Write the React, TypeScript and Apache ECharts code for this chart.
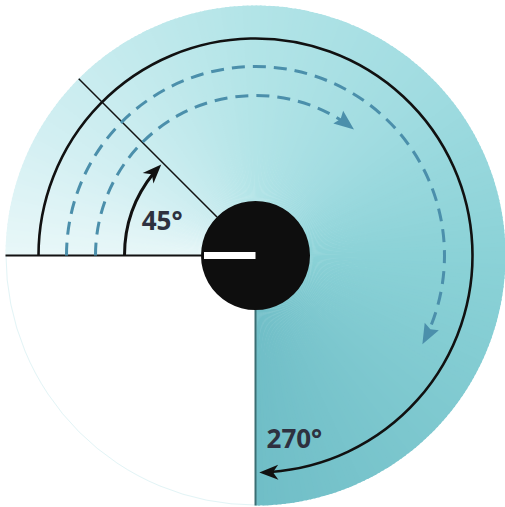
import React, { useEffect, useRef } from "react";
import * as echarts from "echarts";

// ---- values (degrees swept clockwise from 9 o'clock) ----
const outerRadius = 250;
const sectorSweep = 270;
const hubRadius = 54.5;
const hubBarLength = 51.5;

const arcNames = ["full path", "outer dashed path", "inner dashed path", "quarter mark"];
const arcRadii = [217, 189, 160, 131];
const arcSweeps = [269, 208, 128, 44];

const rayNames = ["base", "diagonal", "end"];
const rayAngles = [0, 45, 270];

const labelTexts = ["45°", "270°"];
const labelRadii = [100, 187];
const labelAngles = [21, 258];

// ---- styling ----
const conicStops: [number, string][] = [
  [0, "#e8f7f8"],
  [30, "#d2eff2"],
  [90, "#b2e4e7"],
  [135, "#a1dce1"],
  [180, "#8bd2d7"],
  [270, "#70bec7"],
];
const arcStyles = [
  { stroke: "#111111", lineWidth: 2.6, dash: null as number[] | null, arrow: "#111111", L: 19, W: 15, notch: 0.72 },
  { stroke: "#4b8fab", lineWidth: 3, dash: [13, 8], arrow: "#4b8fab", L: 20, W: 16, notch: 0.85 },
  { stroke: "#4b8fab", lineWidth: 3, dash: [13, 8], arrow: "#4b8fab", L: 20, W: 16, notch: 0.85 },
  { stroke: "#111111", lineWidth: 3, dash: null as number[] | null, arrow: "#111111", L: 19, W: 15, notch: 0.72 },
];
const rayStyles = [
  { stroke: "#111111", lineWidth: 2 },
  { stroke: "#111111", lineWidth: 1.5 },
  { stroke: "#3b6e73", lineWidth: 2 },
];

function hexToRgb(h: string) {
  const n = parseInt(h.slice(1), 16);
  return [(n >> 16) & 255, (n >> 8) & 255, n & 255];
}
function conicColor(a: number) {
  for (let i = 0; i < conicStops.length - 1; i++) {
    const [a0, c0] = conicStops[i];
    const [a1, c1] = conicStops[i + 1];
    if (a <= a1 || i === conicStops.length - 2) {
      const t = Math.max(0, Math.min(1, (a - a0) / (a1 - a0)));
      const p = hexToRgb(c0);
      const q = hexToRgb(c1);
      const m = p.map((v, k) => Math.round(v + (q[k] - v) * t));
      return `rgb(${m[0]},${m[1]},${m[2]})`;
    }
  }
  return conicStops[0][1];
}

function polarInfo(params: any, api: any) {
  const cs = params.coordSys;
  const cx = cs.cx;
  const cy = cs.cy;
  const p0 = api.coord([outerRadius, 0]);
  const p1 = api.coord([outerRadius, 10]);
  const a0 = Math.atan2(p0[1] - cy, p0[0] - cx);
  let d = Math.atan2(p1[1] - cy, p1[0] - cx) - a0;
  while (d > Math.PI) d -= 2 * Math.PI;
  while (d < -Math.PI) d += 2 * Math.PI;
  const dir = d >= 0 ? 1 : -1;
  const k = Math.hypot(p0[0] - cx, p0[1] - cy) / outerRadius;
  const sa = (deg: number) => a0 + (dir * deg * Math.PI) / 180;
  return { cx, cy, k, dir, sa };
}

export default function App() {
  const ref = useRef<HTMLDivElement>(null);
  useEffect(() => {
    if (!ref.current) return;
    const chart = echarts.init(ref.current, undefined, { renderer: "svg" });

    const option: any = {
      animation: false,
      backgroundColor: "#ffffff",
      polar: { center: [255.5, 255.5], radius: 250 },
      angleAxis: {
        type: "value",
        min: 0,
        max: 360,
        startAngle: 180,
        clockwise: true,
        show: false,
      },
      radiusAxis: { type: "value", min: 0, max: outerRadius, show: false },
      series: [
        {
          type: "custom",
          name: "sector",
          coordinateSystem: "polar",
          silent: true,
          z: 1,
          data: [[outerRadius, sectorSweep]],
          renderItem: (params: any, api: any) => {
            const { cx, cy, k, dir, sa } = polarInfo(params, api);
            const R = api.value(0) * k;
            const sweep = api.value(1);
            const children: any[] = [];
            for (let a = 0; a < sweep; a += 1) {
              const e = Math.min(a + 1.4, sweep);
              children.push({
                type: "sector",
                shape: { cx, cy, r0: 0, r: R, startAngle: sa(a), endAngle: sa(e), clockwise: dir > 0 },
                style: { fill: conicColor(a + 0.5) },
              });
            }
            children.push({
              type: "arc",
              shape: { cx, cy, r: R - 0.5, startAngle: sa(sweep), endAngle: sa(360), clockwise: dir > 0 },
              style: { stroke: "#e2f4f6", lineWidth: 1, fill: "none" },
            });
            return { type: "group", children };
          },
        },
        {
          type: "custom",
          name: "rays",
          coordinateSystem: "polar",
          silent: true,
          z: 2,
          data: rayAngles.map((a, i) => ({ name: rayNames[i], value: [outerRadius, a, hubRadius] })),
          renderItem: (params: any, api: any) => {
            const i = params.dataIndex;
            const p1 = api.coord([api.value(2), api.value(1)]);
            const p2 = api.coord([api.value(0), api.value(1)]);
            return {
              type: "line",
              shape: { x1: p1[0], y1: p1[1], x2: p2[0], y2: p2[1] },
              style: { stroke: rayStyles[i].stroke, lineWidth: rayStyles[i].lineWidth },
            };
          },
        },
        {
          type: "custom",
          name: "arcs",
          coordinateSystem: "polar",
          silent: true,
          z: 3,
          data: arcRadii.map((r, i) => ({ name: arcNames[i], value: [r, arcSweeps[i]] })),
          renderItem: (params: any, api: any) => {
            const i = params.dataIndex;
            const st = arcStyles[i];
            const { cx, cy, k, dir, sa } = polarInfo(params, api);
            const r = api.value(0) * k;
            const sweep = api.value(1);
            const L = st.L;
            const W = st.W;
            const endA = sa(sweep);
            const lineEnd = endA - (dir * L * 0.6) / r;
            const tip = [cx + r * Math.cos(endA), cy + r * Math.sin(endA)];
            const t = [-Math.sin(endA) * dir, Math.cos(endA) * dir];
            const n = [Math.cos(endA), Math.sin(endA)];
            const base = [tip[0] - L * t[0], tip[1] - L * t[1]];
            const notch = [tip[0] - L * st.notch * t[0], tip[1] - L * st.notch * t[1]];
            const left = [base[0] + (W / 2) * n[0], base[1] + (W / 2) * n[1]];
            const right = [base[0] - (W / 2) * n[0], base[1] - (W / 2) * n[1]];
            return {
              type: "group",
              children: [
                {
                  type: "arc",
                  shape: { cx, cy, r, startAngle: sa(0), endAngle: lineEnd, clockwise: dir > 0 },
                  style: {
                    stroke: st.stroke,
                    lineWidth: st.lineWidth,
                    fill: "none",
                    lineDash: st.dash || undefined,
                  },
                },
                {
                  type: "polygon",
                  shape: { points: [tip, left, notch, right] },
                  style: { fill: st.arrow },
                },
              ],
            };
          },
        },
        {
          type: "custom",
          name: "hub",
          coordinateSystem: "polar",
          silent: true,
          z: 4,
          data: [[hubRadius, 0, hubBarLength]],
          renderItem: (params: any, api: any) => {
            const { cx, cy, k } = polarInfo(params, api);
            const p1 = api.coord([0, 0]);
            const p2 = api.coord([api.value(2), 0]);
            return {
              type: "group",
              children: [
                {
                  type: "circle",
                  shape: { cx, cy, r: api.value(0) * k },
                  style: { fill: "#0e0e0e" },
                },
                {
                  type: "line",
                  shape: { x1: p1[0], y1: p1[1], x2: p2[0], y2: p2[1] },
                  style: { stroke: "#ffffff", lineWidth: 7, lineCap: "butt" },
                },
              ],
            };
          },
        },
        {
          type: "custom",
          name: "labels",
          coordinateSystem: "polar",
          silent: true,
          z: 5,
          data: labelTexts.map((t, i) => ({ name: t, value: [labelRadii[i], labelAngles[i]] })),
          renderItem: (params: any, api: any) => {
            const p = api.coord([api.value(0), api.value(1)]);
            return {
              type: "text",
              x: p[0],
              y: p[1],
              style: {
                text: labelTexts[params.dataIndex],
                fill: "#2e3140",
                font: 'bold 26px "Open Sans", "Noto Sans", sans-serif',
                textAlign: "center",
                textVerticalAlign: "middle",
                align: "center",
                verticalAlign: "middle",
              },
            };
          },
        },
      ],
    };
    chart.setOption(option);
    return () => chart.dispose();
  }, []);

  return (
    <div
      ref={ref}
      style={{ position: "fixed", left: 0, top: 0, width: 505, height: 507, background: "#ffffff" }}
    />
  );
}
